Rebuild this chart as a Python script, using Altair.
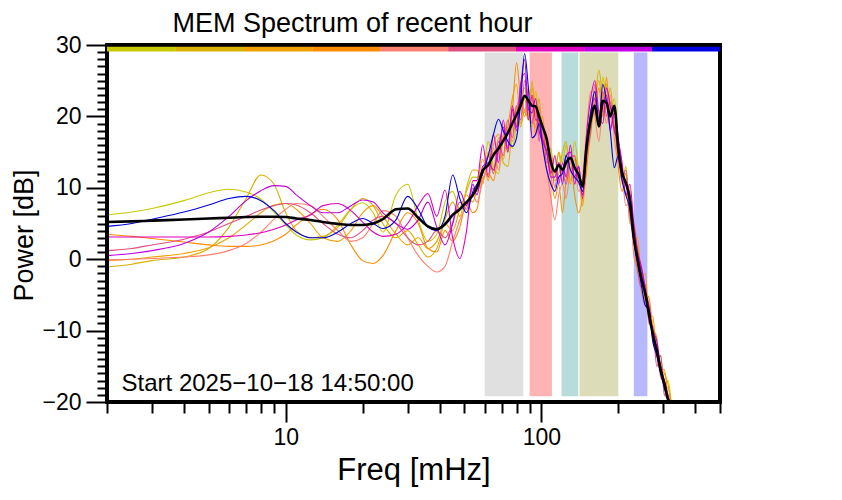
import altair as alt
import pandas as pd

FONT = "Liberation Sans"

# ---------------- data ----------------
freq_low = [2, 2.5, 3, 4, 5, 6, 7, 8, 9, 10, 11, 12.5, 14, 16, 18, 20, 22, 24, 27, 30,
            33, 36, 39, 42, 45, 48, 51, 54]
freq_high = [56, 59, 62, 65, 68, 71, 74, 77, 80, 83, 86, 89, 92, 95, 98, 101, 105, 109,
             113, 117, 121, 125, 130, 135, 140, 145, 150, 156, 162, 168, 174, 180, 186,
             193, 200, 207, 214, 222, 230, 238, 246, 255, 264, 273, 283, 293, 303, 313, 324]

series_names = ["s1", "s2", "s3", "s4", "s5", "s6", "s7", "s8", "s9"]
series_colors = ["#c8c800", "#d8b000", "#f0a000", "#ff8c00", "#ff8070",
                 "#e05080", "#e000c0", "#c000e0", "#0000e0"]

s1_low = [6.2, 6.6, 7.1, 8.2, 9.3, 9.8, 9.4, 8.4, 6.6, 4.8, 3.4, 2.7, 3.0, 4.8, 7.0, 7.9,
          6.5, 3.8, 9.0, 10.5, 5.5, 2.5, 3.5, 8.0, 9.5, 7.0, 9.5, 11.5]
s1_high = [11.5, 12.0, 16.5, 13.0, 12.0, 17.0, 19.5, 15.5, 19.0, 22.5, 24.0, 20.5, 18.5,
           23.5, 19.5, 17.0, 16.5, 12.5, 11.5, 15.0, 13.5, 16.0, 12.5, 16.5, 12.5, 10.5,
           14.0, 20.5, 21.5, 19.0, 25.5, 22.0, 20.5, 22.5, 16.0, 10.5, 13.0, 6.5, 4.5,
           -2.0, -1.5, -6.5, -6.5, -11.5, -13.0, -15.0, -17.5, -17.0, -21.0]
s2_low = [-1.1, -0.7, -0.2, 0.3, 1.5, 4.5, 8.5, 11.8, 10.5, 6.5, 4.0, 3.0, 3.2, 4.5, 7.0,
          8.5, 7.5, 5.0, 3.0, 4.0, 2.0, 0.3, 1.5, 5.5, 8.0, 6.0, 10.0, 12.5]
s2_high = [12.5, 10.5, 15.0, 12.5, 17.0, 13.5, 13.0, 18.5, 21.5, 18.5, 21.0, 19.5, 25.0,
           20.0, 22.5, 17.0, 14.0, 15.5, 11.0, 12.0, 15.0, 16.5, 11.0, 14.0, 12.5, 9.5,
           15.0, 18.5, 22.0, 26.5, 22.5, 21.0, 24.0, 18.5, 15.5, 12.5, 9.0, 8.5, 2.5,
           1.5, -3.0, -5.5, -8.5, -9.5, -13.0, -15.5, -16.0, -17.5, -21.0]
s3_low = [-0.2, 0.0, 0.3, 0.8, 1.6, 3.0, 4.8, 6.5, 7.6, 7.8, 7.0, 5.0, 3.0, 2.5, 4.0, 6.5,
          7.5, 6.0, 3.5, 2.0, 3.0, 1.5, 2.5, 5.0, 4.0, 7.0, 9.0, 8.0]
s3_high = [10.0, 14.0, 11.0, 16.0, 17.5, 14.0, 18.5, 22.5, 24.5, 19.0, 22.5, 20.0, 24.0,
           20.5, 17.5, 20.0, 15.0, 14.5, 12.0, 15.0, 11.0, 13.5, 10.5, 14.5, 12.0, 7.5,
           13.0, 17.5, 22.5, 25.0, 21.5, 24.5, 20.0, 21.5, 16.5, 11.5, 11.0, 9.5, 3.0,
           3.0, -2.5, -2.0, -8.0, -8.0, -13.5, -13.5, -18.0, -18.0, -21.0]
s4_low = [3.5, 3.2, 2.9, 2.4, 2.0, 1.8, 1.8, 2.0, 2.6, 3.5, 4.8, 6.3, 7.0, 5.5, 2.0, -0.2,
          -0.6, 0.5, 4.0, 6.5, 5.0, 1.5, 1.0, 4.0, 2.5, 4.5, 8.0, 6.5]
s4_high = [7.0, 11.5, 12.0, 11.0, 15.0, 17.0, 15.0, 20.5, 27.5, 22.5, 20.0, 22.0, 22.5,
           17.5, 21.0, 16.5, 16.0, 12.0, 8.5, 10.5, 6.5, 11.0, 13.5, 9.0, 6.5, 8.5,
           12.0, 19.0, 21.0, 24.0, 20.0, 25.5, 18.5, 21.0, 13.0, 9.5, 12.0, 5.0, 5.0,
           1.5, -1.0, -4.5, -5.5, -9.5, -11.0, -15.5, -15.5, -19.5, -21.0]
s5_low = [-0.1, 0.0, 0.1, 0.3, 0.6, 1.2, 2.2, 3.8, 5.6, 7.0, 7.8, 7.5, 6.0, 4.0, 2.5, 3.0,
          5.0, 6.8, 6.0, 3.0, 0.5, -1.0, -1.8, -1.0, 2.5, 5.5, 7.5, 9.0]
s5_high = [8.0, 11.0, 13.0, 15.5, 12.5, 17.5, 18.5, 16.5, 21.0, 23.0, 20.5, 24.0, 20.0,
           18.5, 21.5, 16.0, 12.5, 8.5, 5.5, 9.0, 10.5, 8.5, 12.5, 13.0, 9.5, 11.5,
           17.5, 23.5, 20.0, 16.5, 21.5, 19.0, 23.0, 17.0, 13.5, 12.0, 7.5, 8.0, 0.5,
           -1.5, -4.5, -6.5, -7.0, -11.5, -13.5, -16.5, -17.5, -20.0, -21.0]
s6_low = [1.2, 1.5, 2.0, 2.8, 3.8, 5.0, 6.0, 6.9, 7.5, 7.8, 7.6, 6.5, 5.0, 3.5, 3.0, 4.0,
          5.5, 6.0, 5.0, 3.0, 2.0, 2.5, 4.0, 3.0, 5.0, 8.0, 7.0, 10.0]
s6_high = [9.5, 12.0, 14.5, 12.0, 16.5, 14.5, 19.5, 17.0, 21.5, 19.5, 25.0, 21.5, 19.0,
           21.5, 16.5, 19.0, 13.5, 13.5, 10.0, 13.5, 12.5, 10.5, 14.0, 14.5, 10.5, 11.0,
           14.5, 18.0, 24.5, 19.5, 23.5, 20.0, 22.0, 18.5, 14.5, 11.0, 12.5, 6.0, 2.5,
           -1.5, -4.0, -3.5, -9.0, -9.5, -15.0, -13.5, -19.0, -19.5, -21.0]
s7_low = [3.1, 3.1, 3.1, 3.1, 3.1, 3.2, 3.4, 3.7, 4.2, 4.8, 5.5, 6.2, 7.5, 7.8, 6.8, 5.2,
          3.8, 3.2, 3.5, 5.0, 7.5, 9.2, 6.0, 9.7, 3.0, 0.1, 4.0, 11.0]
s7_high = [11.0, 16.0, 11.5, 17.5, 13.5, 19.5, 15.0, 21.5, 18.5, 24.5, 26.0, 19.5, 23.0,
           19.5, 19.5, 17.0, 15.0, 12.0, 14.5, 10.5, 13.5, 11.5, 16.0, 10.5, 13.0, 8.5,
           17.0, 22.5, 25.0, 20.5, 19.0, 24.0, 21.5, 18.0, 16.5, 13.5, 9.0, 10.5, 5.0,
           1.0, -1.5, -4.5, -6.5, -10.5, -12.5, -16.0, -17.0, -19.0, -21.0]
s8_low = [0.5, 0.8, 1.2, 2.2, 3.8, 6.0, 8.2, 9.6, 10.3, 10.2, 9.0, 7.5, 6.5, 6.5, 7.5,
          8.3, 8.0, 6.5, 5.0, 4.2, 5.5, 8.0, 4.5, 2.0, 5.0, 9.5, 7.5, 10.5]
s8_high = [9.0, 13.0, 13.5, 12.5, 15.5, 18.5, 15.5, 21.0, 18.0, 24.0, 28.0, 21.0, 20.5,
           22.5, 18.0, 16.5, 15.0, 11.5, 11.5, 13.5, 10.5, 14.5, 15.0, 11.5, 13.0, 9.0,
           14.0, 20.5, 22.5, 19.0, 21.5, 23.0, 18.0, 20.5, 17.0, 12.5, 10.5, 9.0, 4.5,
           1.0, -1.0, -4.0, -8.0, -10.0, -11.5, -15.0, -17.0, -19.5, -21.0]
s9_low = [4.6, 5.0, 5.6, 6.6, 7.6, 8.5, 8.8, 8.2, 6.8, 5.0, 3.8, 3.0, 3.0, 3.8, 5.0, 5.7,
          5.0, 4.3, 5.5, 8.8, 7.0, 4.5, 4.0, 6.0, 11.8, 8.5, 6.5, 9.5]
s9_high = [10.5, 12.0, 14.5, 17.5, 19.6, 18.0, 16.5, 15.8, 17.0, 22.0, 28.8, 24.0, 17.0,
           17.5, 19.0, 16.0, 12.5, 10.5, 9.5, 11.5, 12.0, 14.5, 12.5, 11.5, 10.8, 9.5,
           16.0, 20.5, 23.5, 19.0, 24.5, 22.0, 18.0, 12.8, 14.5, 11.0, 9.0, 7.0, 2.5,
           -0.5, -3.5, -6.5, -7.0, -11.5, -13.5, -16.0, -18.0, -19.8, -21.0]

mean_low = [5.2, 5.3, 5.4, 5.55, 5.7, 5.8, 5.9, 5.95, 5.95, 5.9, 5.7, 5.5, 5.2, 4.95, 4.8,
            4.8, 5.0, 5.6, 7.0, 7.1, 5.8, 4.6, 4.2, 4.9, 6.2, 7.0, 8.0, 9.0]
mean_high = [10.0, 12.4, 13.2, 14.6, 15.5, 16.6, 17.7, 19.0, 20.2, 21.5, 22.9, 22.2, 21.5,
             21.4, 20.0, 18.6, 16.8, 13.6, 12.3, 13.2, 12.5, 13.5, 14.2, 12.8, 11.8, 10.2,
             15.5, 19.5, 21.5, 18.6, 22.2, 21.9, 20.0, 21.5, 15.4, 12.1, 10.7, 8.3, 3.1,
             0.0, -2.6, -4.8, -7.8, -10.5, -12.8, -15.5, -17.5, -19.6, -21.0]

band_lo = [60, 90, 120, 141, 230]
band_hi = [85, 110, 139.5, 200, 260]
band_colors = ["#e0e0e0", "#ffb3b3", "#b8dcdc", "#dcdcb8", "#b8b8ff"]
band_top = 28.95
band_bottom = -19.2

seg_lo = [2, 3.72, 6.87, 12.7, 23.4, 43.2, 79.6, 147, 271]
seg_hi = [3.72, 6.87, 12.7, 23.4, 43.2, 79.6, 147, 271, 500]
seg_top = 29.75
seg_bottom = 29.1

frame_x = [2]
frame_x2 = [500]
frame_y = [-20]
frame_y2 = [30]

x_ticks = [2, 3, 4, 5, 6, 7, 8, 9, 10, 20, 30, 40, 50, 60, 70, 80, 90, 100, 200, 300, 400, 500]
y_ticks = list(range(-20, 31))

note_text = "Start 2025\u221210\u221218 14:50:00"
note_x = 2.28
note_y = -18.4

# ---------------- encodings ----------------
xscale = alt.Scale(type="log", domain=[2, 500], nice=False)
yscale = alt.Scale(domain=[-20, 30], nice=False, zero=False)

x_axis = alt.Axis(
    values=x_ticks,
    labelExpr="(datum.value == 10 || datum.value == 100) ? format(datum.value, 'd') : ''",
    tickSize={"condition": {"test": "datum.value == 10 || datum.value == 100", "value": 20}, "value": 11},
    tickWidth=2, tickColor="black", domain=False, grid=False,
    labelFont=FONT, labelFontSize=23, labelColor="black", labelPadding=4,
    labelFlush=False, labelOverlap=False,
    titleFont=FONT, titleFontSize=31, titleFontWeight="normal", titleColor="black",
    titleX=306.5, titleY=68, titleBaseline="middle", titleAnchor="middle",
)
y_axis = alt.Axis(
    values=y_ticks,
    labelExpr="(datum.value % 10 == 0) ? format(datum.value, 'd') : ''",
    tickSize={"condition": {"test": "datum.value % 10 == 0", "value": 21}, "value": 10},
    tickWidth=2, tickColor="black", domain=False, grid=False,
    labelFont=FONT, labelFontSize=23, labelColor="black", labelPadding=5,
    labelFlush=False, labelOverlap=False,
    titleFont=FONT, titleFontSize=27, titleFontWeight="normal", titleColor="black",
    titleX=-83, titleY=190, titleBaseline="middle", titleAngle=-90,
)


def X(field):
    return alt.X(field, type="quantitative", scale=xscale, axis=x_axis, title="Freq [mHz]")


def Y(field):
    return alt.Y(field, type="quantitative", scale=yscale, axis=y_axis, title="Power [dB]")


bands_df = pd.DataFrame({"lo": band_lo, "hi": band_hi, "c": band_colors,
                         "top": band_top, "bot": band_bottom})
bands = alt.Chart(bands_df).mark_rect().encode(
    x=X("lo"), x2="hi", y=Y("top"), y2="bot",
    color=alt.Color("c:N", scale=None),
)

seg_df = pd.DataFrame({"lo": seg_lo, "hi": seg_hi, "c": series_colors,
                       "top": seg_top, "bot": seg_bottom})
segbar = alt.Chart(seg_df).mark_rect().encode(
    x=X("lo"), x2="hi", y=Y("top"), y2="bot",
    color=alt.Color("c:N", scale=None),
)

freqs = freq_low + freq_high
all_vals = [s1_low + s1_high, s2_low + s2_high, s3_low + s3_high, s4_low + s4_high,
            s5_low + s5_high, s6_low + s6_high, s7_low + s7_high, s8_low + s8_high,
            s9_low + s9_high]

layers = [bands]
for name, col, vals in zip(series_names, series_colors, all_vals):
    df = pd.DataFrame({"freq": freqs, "power": vals})
    layers.append(
        alt.Chart(df).mark_line(color=col, strokeWidth=1.1, interpolate="monotone", clip=True)
        .encode(x=X("freq"), y=Y("power"))
    )

mean_df = pd.DataFrame({"freq": freqs, "power": mean_low + mean_high})
layers.append(
    alt.Chart(mean_df).mark_line(color="black", strokeWidth=2.6, interpolate="monotone", clip=True)
    .encode(x=X("freq"), y=Y("power"))
)

note_df = pd.DataFrame({"x": [note_x], "y": [note_y], "t": [note_text]})
layers.append(
    alt.Chart(note_df).mark_text(align="left", baseline="alphabetic", font=FONT,
                                 fontSize=24, color="black")
    .encode(x=X("x"), y=Y("y"), text="t:N")
)

frame_df = pd.DataFrame({"x": frame_x, "x2": frame_x2, "y": frame_y, "y2": frame_y2})
layers.append(
    alt.Chart(frame_df).mark_rect(fill=None, stroke="black", strokeWidth=4)
    .encode(x=X("x"), x2="x2", y=Y("y"), y2="y2")
)
layers.append(segbar)

chart = alt.layer(*layers).properties(
    width=613, height=357,
    title=alt.TitleParams("MEM Spectrum of recent hour", font=FONT, fontSize=27,
                          fontWeight="normal", color="black", anchor="middle",
                          dx=-61, dy=14, offset=10),
    autosize=alt.AutoSizeParams(type="none"),
    padding={"left": 99, "top": 37, "right": 106, "bottom": 90},
).configure(
    background="white",
    view=alt.ViewConfig(stroke="black", strokeWidth=4),
)

chart.save("out.html", embed_options={"renderer": "svg", "actions": False})
